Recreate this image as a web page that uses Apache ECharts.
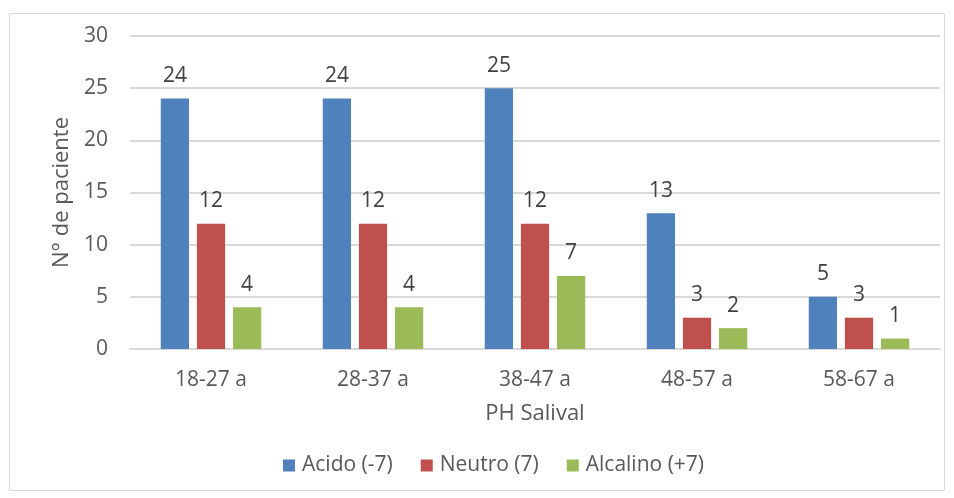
<!DOCTYPE html>
<html>
<head>
<meta charset="utf-8">
<script src="https://cdn.jsdelivr.net/npm/echarts@6/dist/echarts.min.js"></script>
<style>
  html, body { margin: 0; padding: 0; background: #fff; }
  #chart { width: 954px; height: 498px; }
</style>
</head>
<body>
<div id="chart"></div>
<script>
// Age groups and patient counts by salivary pH
const categories = ['18-27 a', '28-37 a', '38-47 a', '48-57 a', '58-67 a'];
const acido = [24, 24, 25, 13, 5];
const neutro = [12, 12, 12, 3, 3];
const alcalino = [4, 4, 7, 2, 1];
const seriesNames = ['Acido (-7)', 'Neutro (7)', 'Alcalino (+7)'];
const yTicks = { min: 0, max: 30, interval: 5 };

const FONT = '"Open Sans", sans-serif';
const colors = ['#4F81BD', '#C0504D', '#9BBB59'];

function barSeries(name, data, color) {
  return {
    name: name,
    type: 'bar',
    data: data,
    barGap: '28%',
    barCategoryGap: '38%',
    itemStyle: { color: color },
    label: {
      show: true,
      position: 'top',
      distance: 12,
      color: '#404040',
      fontFamily: FONT,
      fontSize: 21
    }
  };
}

const chart = echarts.init(document.getElementById('chart'));
chart.setOption({
  animation: false,
  color: colors,
  graphic: [{
    type: 'rect',
    shape: { x: 9.5, y: 13.5, width: 935, height: 477 },
    style: { fill: 'none', stroke: '#d9d9d9', lineWidth: 1 },
    silent: true,
    z: -1
  }],
  grid: { left: 130, right: 14, top: 36, bottom: 149 },
  legend: {
    data: seriesNames,
    left: 278,
    top: 450,
    itemWidth: 12,
    itemHeight: 12,
    itemGap: 28,
    icon: 'rect',
    textStyle: { color: '#595959', fontFamily: FONT, fontSize: 21, padding: [0, 0, 0, 2] }
  },
  xAxis: {
    type: 'category',
    data: categories,
    name: 'PH Salival',
    nameLocation: 'middle',
    nameGap: 54,
    nameTextStyle: { color: '#595959', fontFamily: FONT, fontSize: 22 },
    axisLine: { lineStyle: { color: '#d9d9d9', width: 2 } },
    axisTick: { show: false },
    axisLabel: { color: '#595959', fontFamily: FONT, fontSize: 21, margin: 21 }
  },
  yAxis: {
    type: 'value',
    min: yTicks.min,
    max: yTicks.max,
    interval: yTicks.interval,
    name: 'N° de paciente',
    nameLocation: 'middle',
    nameGap: 56,
    nameTextStyle: { color: '#595959', fontFamily: FONT, fontSize: 22 },
    axisLine: { show: false },
    axisTick: { show: false },
    splitLine: { lineStyle: { color: '#d9d9d9', width: 2 } },
    axisLabel: { color: '#595959', fontFamily: FONT, fontSize: 21, margin: 22 }
  },
  series: [
    barSeries(seriesNames[0], acido, colors[0]),
    barSeries(seriesNames[1], neutro, colors[1]),
    barSeries(seriesNames[2], alcalino, colors[2])
  ]
});
</script>
</body>
</html>
